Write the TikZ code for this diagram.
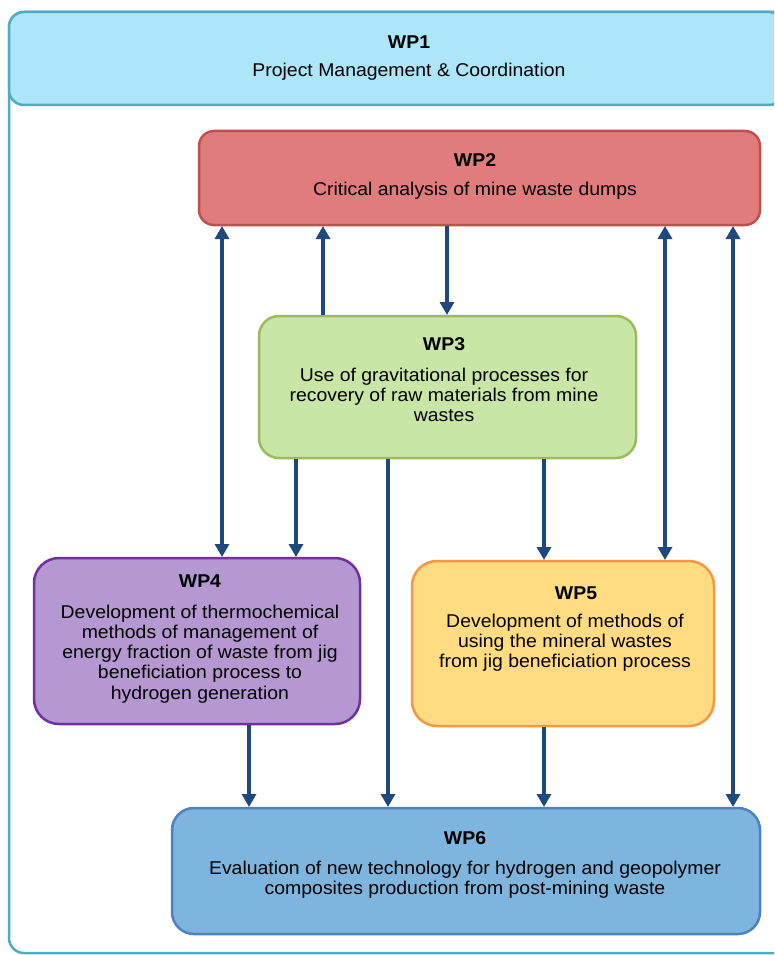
\documentclass[tikz,border=0pt]{standalone}
\usepackage{fontspec}
\setmainfont[FakeStretch=1.05]{Liberation Sans}
\usetikzlibrary{arrows.meta}
\definecolor{wpAfill}{HTML}{ADE6F8}
\definecolor{wpAline}{HTML}{4BACC6}
\definecolor{wpBfill}{HTML}{E07C7C}
\definecolor{wpBline}{HTML}{C0504D}
\definecolor{wpCfill}{HTML}{C8E6A5}
\definecolor{wpCline}{HTML}{9BBB59}
\definecolor{wpDfill}{HTML}{B597D1}
\definecolor{wpDline}{HTML}{7030A0}
\definecolor{wpEfill}{HTML}{FFDC82}
\definecolor{wpEline}{HTML}{F79646}
\definecolor{wpFfill}{HTML}{7EB5DE}
\definecolor{wpFline}{HTML}{4F81BD}
\definecolor{arrcol}{HTML}{1F497D}
\tikzset{
  wpbox/.style={draw, line width=2.5pt, anchor=north west, inner sep=0pt, outer sep=0pt},
  wptitle/.style={font=\fontsize{18.5}{20.2}\selectfont\bfseries, inner sep=0pt},
  wpbody/.style={font=\fontsize{18.5}{20.2}\selectfont, align=center, inner sep=0pt},
  arr/.style={draw=arrcol, line width=4pt, -{Triangle[width=14pt,length=13pt]}, shorten >=1pt, shorten <=1pt},
  darr/.style={draw=arrcol, line width=4pt, {Triangle[width=14pt,length=13pt]}-{Triangle[width=14pt,length=13pt]}, shorten >=1pt, shorten <=1pt}
}
\begin{document}
\begin{tikzpicture}[x=1pt,y=-1pt]
\useasboundingbox (0,0) rectangle (774,955);
\clip (0,0) rectangle (774,955);
% outer frame
\draw[draw=wpAline, line width=2.5pt, rounded corners=15pt] (9,12) rectangle (800,953);
% boxes
\node[wpbox, fill=wpAfill, draw=wpAline, rounded corners=15pt, minimum width=775pt, minimum height=93pt] (wp1) at (9,12) {};
\node[wpbox, fill=wpBfill, draw=wpBline, rounded corners=15pt, minimum width=561pt, minimum height=94pt] (wp2) at (199,131) {};
\node[wpbox, fill=wpCfill, draw=wpCline, rounded corners=20pt, minimum width=377pt, minimum height=142pt] (wp3) at (259,316) {};
\node[wpbox, fill=wpDfill, draw=wpDline, rounded corners=25pt, minimum width=326pt, minimum height=166pt] (wp4) at (34,558) {};
\node[wpbox, fill=wpEfill, draw=wpEline, rounded corners=25pt, minimum width=302pt, minimum height=165pt] (wp5) at (412,561) {};
\node[wpbox, fill=wpFfill, draw=wpFline, rounded corners=22pt, minimum width=588pt, minimum height=126pt] (wp6) at (172,808) {};
% texts
\node[wptitle] (wp1t) at (409,42) {WP1};
\node[wpbody] (wp1b) at (409,72) {Project Management \& Coordination};
\node[wptitle] (wp2t) at (475,160) {WP2};
\node[wpbody] (wp2b) at (475,191) {Critical analysis of mine waste dumps};
\node[wptitle] (wp3t) at (444,344) {WP3};
\node[wpbody] (wp3b) at (444,395) {Use of gravitational processes for\\recovery of raw materials from mine\\wastes};
\node[wptitle] (wp4t) at (200,581) {WP4};
\node[wpbody] (wp4b) at (200,654) {Development of thermochemical\\methods of management of\\energy fraction of waste from jig\\beneficiation process to\\hydrogen generation};
\node[wptitle] (wp5t) at (576,593) {WP5};
\node[wpbody] (wp5b) at (565,643) {Development of methods of\\using the mineral wastes\\from jig beneficiation process};
\node[wptitle] (wp6t) at (465,838) {WP6};
\node[wpbody] (wp6b) at (465,880) {Evaluation of new technology for hydrogen and geopolymer\\composites production from post-mining waste};
% arrows
\draw[darr] (wp2.south -| 222,0) -- (wp4.north -| 222,0);
\draw[arr] (wp3.north -| 323,0) -- (wp2.south -| 323,0);
\draw[arr] (wp2.south -| 447,0) -- (wp3.north -| 447,0);
\draw[darr] (wp2.south -| 665,0) -- (wp5.north -| 665,0);
\draw[darr] (wp2.south -| 733,0) -- (wp6.north -| 733,0);
\draw[arr] (wp3.south -| 296,0) -- (wp4.north -| 296,0);
\draw[arr] (wp3.south -| 388,0) -- (wp6.north -| 388,0);
\draw[arr] (wp3.south -| 544,0) -- (wp5.north -| 544,0);
\draw[arr] (wp4.south -| 249,0) -- (wp6.north -| 249,0);
\draw[arr] (wp5.south -| 544,0) -- (wp6.north -| 544,0);
\end{tikzpicture}
\end{document}
